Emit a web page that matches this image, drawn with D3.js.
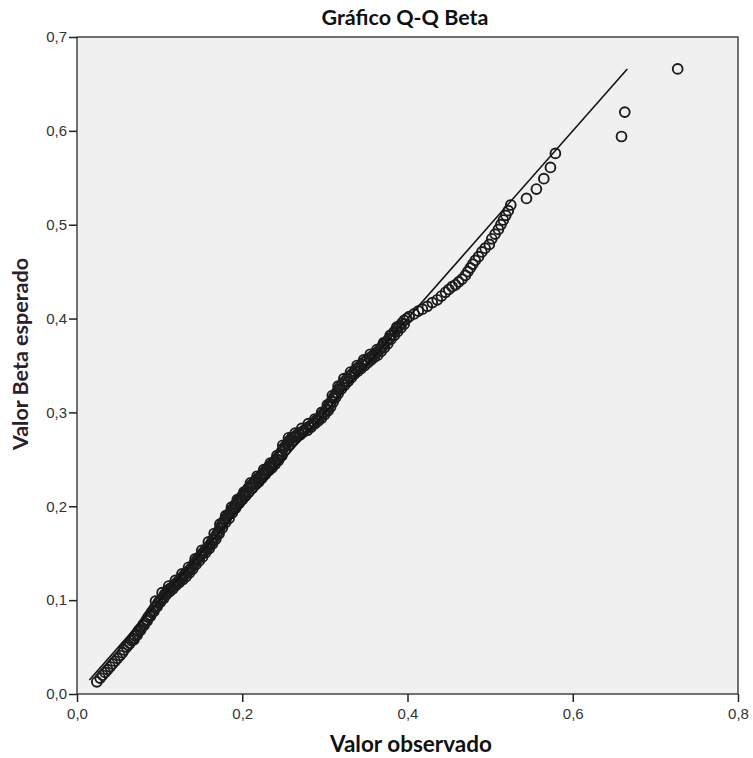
<!DOCTYPE html>
<html><head><meta charset="utf-8">
<script src="https://cdn.jsdelivr.net/npm/d3@7"></script>
<style>html,body{margin:0;padding:0;background:#fff;}</style>
</head><body>
<svg id="chart" width="753" height="758"></svg>
<script>
const title = "Gráfico Q-Q Beta";
const xTitle = "Valor observado";
const yTitle = "Valor Beta esperado";
const xTicks = [0, 0.2, 0.4, 0.6, 0.8];
const yTicks = [0, 0.1, 0.2, 0.3, 0.4, 0.5, 0.6, 0.7];
const refLineX = [0.015, 0.666];
const refLineY = [0.015, 0.666];
const observed = [
0.024,0.028,0.031,0.034,0.037,0.040,0.043,
0.046,0.049,0.052,0.055,0.057,0.060,0.062,0.064,
0.066,0.068,0.070,0.072,0.074,0.076,0.078,0.080,0.082,0.084,
0.086,0.088,0.090,0.092,0.094,0.096,0.098,0.100,0.102,0.104,
0.106,0.108,0.110,0.112,0.114,0.117,0.119,0.121,0.123,0.125,0.127,0.129,0.131,0.133,0.135,0.137,0.139,0.141,0.143,0.145,0.147,0.149,0.151,0.153,0.155,0.157,0.159,0.161,0.163,0.165,
0.167,0.169,0.171,0.173,0.175,0.177,0.179,0.181,0.183,0.185,0.187,0.189,0.191,0.193,0.195,0.197,0.199,0.201,0.203,0.205,0.207,0.209,
0.211,0.213,0.215,0.217,0.219,0.222,0.224,0.226,0.228,0.230,0.232,0.234,0.236,0.238,0.240,0.242,0.244,0.246,0.248,0.250,0.252,0.254,0.256,0.258,
0.260,0.263,0.266,0.269,0.272,0.275,0.278,0.281,0.284,0.287,0.290,0.293,0.296,0.299,0.302,
0.304,0.306,0.308,0.310,0.312,0.314,0.316,0.318,0.321,0.324,0.327,0.330,0.333,0.336,0.339,0.342,0.345,0.348,0.351,0.354,0.357,0.360,0.363,0.366,0.369,0.372,0.375,0.378,0.381,0.384,0.387,0.390,0.393,0.396,
0.399,0.402,0.408,0.413,0.418,0.424,0.430,0.436,0.441,0.446,0.450,0.454,0.458,0.462,0.466,0.470,0.473,0.476,0.479,0.482,0.486,0.490,0.494,0.499,0.502,0.506,0.510,0.513,0.516,0.519,0.522,0.525,
0.544,0.556,0.565,0.573,0.579,0.659,0.663,0.727,
0.069,0.073,0.077,0.081,0.085,0.089,0.093,0.097,0.101,0.105,0.108,0.112,0.116,0.120,0.124,0.128,0.132,0.136,0.140,0.144,0.148,0.152,0.156,0.160,0.164,0.168,0.172,0.176,0.180,0.184,0.188,0.192,0.196,0.200,0.204,0.208,0.212,0.216,0.220,0.224,0.228,0.232,0.236,0.240,0.244,0.248,0.252,0.256,0.261,0.265,0.270,0.274,0.279,0.283,0.288,0.292,0.296,0.300,0.304,0.307,0.310,0.313,0.316,0.320,0.324,0.328,0.332,0.336,0.340,0.344,0.348,0.352,0.356,0.360,0.364,0.368,0.372,0.376,0.380,0.384,0.388,0.392,0.396,
0.095,0.103,0.111,0.119,0.127,0.135,0.143,0.151,0.159,0.166,0.173,0.180,0.187,0.194,0.202,0.210,0.218,0.226,0.234,0.242,0.249,0.256,0.264,0.272,0.280,0.288,0.296,0.303,0.309,0.316,0.323,0.331,0.339,0.347,0.355,0.363,0.371,0.379,0.387
];
const expected = [
0.013,0.017,0.020,0.023,0.026,0.029,0.032,
0.035,0.038,0.041,0.044,0.047,0.050,0.052,0.054,
0.057,0.059,0.062,0.064,0.067,0.069,0.071,0.074,0.076,0.079,
0.082,0.084,0.087,0.089,0.092,0.094,0.097,0.099,0.101,0.103,
0.106,0.108,0.110,0.112,0.113,0.115,0.117,0.119,0.120,0.122,0.124,0.126,0.128,0.129,0.131,0.133,0.135,0.138,0.140,0.143,0.145,0.147,0.149,0.151,0.153,0.155,0.157,0.159,0.162,0.164,
0.167,0.170,0.173,0.177,0.180,0.183,0.186,0.188,0.191,0.193,0.196,0.198,0.201,0.203,0.206,0.208,0.210,0.212,0.214,0.216,0.219,0.221,
0.223,0.224,0.226,0.228,0.230,0.232,0.234,0.236,0.238,0.240,0.242,0.243,0.245,0.247,0.249,0.250,0.253,0.256,0.259,0.262,0.264,0.266,0.269,0.271,
0.273,0.274,0.276,0.278,0.279,0.281,0.283,0.285,0.287,0.289,0.292,0.294,0.297,0.300,0.303,
0.306,0.309,0.312,0.315,0.318,0.321,0.324,0.327,0.330,0.333,0.336,0.339,0.341,0.344,0.347,0.349,0.351,0.354,0.356,0.358,0.360,0.362,0.364,0.367,0.370,0.373,0.376,0.379,0.383,0.386,0.389,0.392,0.395,0.398,
0.400,0.402,0.405,0.408,0.410,0.413,0.417,0.420,0.424,0.428,0.431,0.434,0.436,0.439,0.442,0.446,0.450,0.454,0.458,0.462,0.466,0.471,0.475,0.479,0.485,0.490,0.495,0.500,0.505,0.510,0.515,0.521,
0.528,0.538,0.549,0.561,0.576,0.594,0.620,0.666,
0.058,0.063,0.068,0.073,0.078,0.083,0.088,0.093,0.098,0.102,0.106,0.109,0.112,0.116,0.119,0.122,0.125,0.129,0.133,0.138,0.142,0.146,0.151,0.155,0.160,0.165,0.171,0.177,0.183,0.187,0.193,0.198,0.203,0.207,0.211,0.215,0.219,0.223,0.226,0.230,0.234,0.238,0.241,0.245,0.249,0.254,0.260,0.265,0.270,0.273,0.276,0.279,0.281,0.284,0.288,0.291,0.294,0.298,0.302,0.306,0.311,0.316,0.320,0.325,0.329,0.333,0.337,0.341,0.344,0.347,0.350,0.353,0.356,0.359,0.361,0.365,0.369,0.373,0.378,0.382,0.386,0.390,0.394,
0.099,0.108,0.115,0.121,0.128,0.135,0.144,0.153,0.162,0.171,0.181,0.190,0.199,0.207,0.215,0.225,0.232,0.239,0.246,0.254,0.265,0.273,0.278,0.283,0.288,0.293,0.300,0.308,0.318,0.328,0.336,0.343,0.350,0.356,0.362,0.367,0.374,0.382,0.391
];

const svg = d3.select("#chart");
const m = {left: 77, right: 738, top: 37, bottom: 694};
const x = d3.scaleLinear().domain([0, 0.8]).range([m.left, m.right]);
const y = d3.scaleLinear().domain([0, 0.7]).range([m.bottom, m.top]);
const fmt = d => d3.format(".1f")(d).replace(".", ",");

svg.append("rect").attr("x", m.left).attr("y", m.top)
  .attr("width", m.right - m.left).attr("height", m.bottom - m.top)
  .attr("fill", "#f0f0f0");

const data = observed.map((o, i) => ({o, e: expected[i]}));
svg.append("g").selectAll("circle").data(data).join("circle")
  .attr("cx", d => x(d.o)).attr("cy", d => y(d.e)).attr("r", 4.9)
  .attr("fill", "none").attr("stroke", "#1c1c1c").attr("stroke-width", 1.9);

svg.append("line")
  .attr("x1", x(refLineX[0])).attr("y1", y(refLineY[0]))
  .attr("x2", x(refLineX[1])).attr("y2", y(refLineY[1]))
  .attr("stroke", "#111").attr("stroke-width", 1.6);

svg.append("rect").attr("x", m.left).attr("y", m.top)
  .attr("width", m.right - m.left).attr("height", m.bottom - m.top)
  .attr("fill", "none").attr("stroke", "#444").attr("stroke-width", 1.5);

const xAxis = svg.append("g").attr("transform", `translate(0,${m.bottom})`)
  .call(d3.axisBottom(x).tickValues(xTicks).tickFormat(fmt).tickSizeOuter(0).tickSizeInner(8).tickPadding(6));
const yAxis = svg.append("g").attr("transform", `translate(${m.left},0)`)
  .call(d3.axisLeft(y).tickValues(yTicks).tickFormat(fmt).tickSizeOuter(0).tickSizeInner(8).tickPadding(2));
[xAxis, yAxis].forEach(a => {
  a.select(".domain").remove();
  a.selectAll(".tick line").attr("stroke", "#222").attr("stroke-width", 1.5);
  a.selectAll(".tick text").attr("font-family", "Liberation Sans, Arial, sans-serif")
    .attr("font-size", 15).attr("fill", "#333");
});

svg.append("text").attr("x", 405).attr("y", 25).attr("text-anchor", "middle")
  .attr("font-family", "Lato, sans-serif").attr("font-weight", "bold").attr("font-size", 21.5)
  .attr("fill", "#111").text(title);
svg.append("text").attr("x", 411).attr("y", 752).attr("text-anchor", "middle")
  .attr("font-family", "Lato, sans-serif").attr("font-weight", "bold").attr("font-size", 22.5)
  .attr("fill", "#111").text(xTitle);
svg.append("text").attr("transform", "translate(28,354) rotate(-90)").attr("text-anchor", "middle")
  .attr("font-family", "Lato, sans-serif").attr("font-weight", "bold").attr("font-size", 21.5)
  .attr("fill", "#2a1f2a").text(yTitle);
</script>
</body></html>
